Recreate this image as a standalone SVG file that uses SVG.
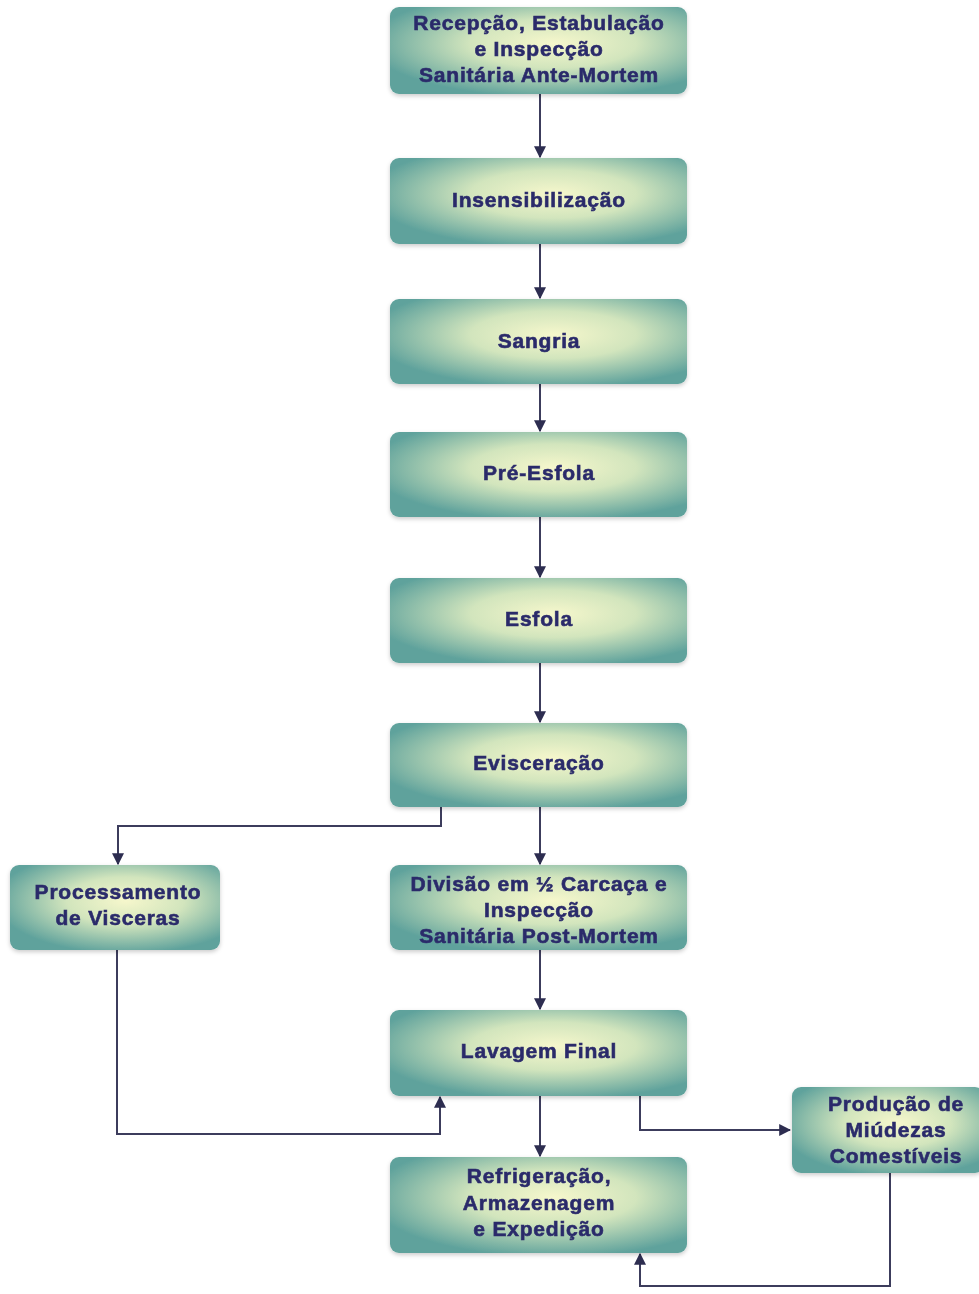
<svg xmlns="http://www.w3.org/2000/svg" width="979" height="1294" viewBox="0 0 979 1294">
<style>
.box{fill:url(#g);}
.t{font-family:"Liberation Sans",Arial,sans-serif;font-weight:bold;font-size:21px;letter-spacing:0.8px;fill:#2b2b6b;stroke:#2b2b6b;stroke-width:0.6;text-anchor:middle;}
.c{fill:none;stroke:#3c3c5c;stroke-width:2;}
</style>
<defs>
<radialGradient id="g" cx="0.55" cy="0.42" r="0.62">
<stop offset="0" stop-color="#f6f7cc"/>
<stop offset="0.45" stop-color="#d2e5bd"/>
<stop offset="1" stop-color="#5fa29c"/>
</radialGradient>
<filter id="s" x="-5%" y="-5%" width="110%" height="115%">
<feDropShadow dx="0" dy="2" stdDeviation="2" flood-color="#000" flood-opacity="0.2"/>
</filter>
<marker id="a" viewBox="0 0 10 10" refX="9" refY="5" markerWidth="6" markerHeight="6" orient="auto">
<path d="M0,0 L10,5 L0,10 z" fill="#2d2d50"/>
</marker>
</defs>
<rect width="979" height="1294" fill="#fff"/>
<g id="connectors">
<line class="c" x1="540" y1="94" x2="540" y2="157" marker-end="url(#a)"/>
<line class="c" x1="540" y1="244" x2="540" y2="298" marker-end="url(#a)"/>
<line class="c" x1="540" y1="384" x2="540" y2="431" marker-end="url(#a)"/>
<line class="c" x1="540" y1="517" x2="540" y2="577" marker-end="url(#a)"/>
<line class="c" x1="540" y1="663" x2="540" y2="722" marker-end="url(#a)"/>
<line class="c" x1="540" y1="807" x2="540" y2="864" marker-end="url(#a)"/>
<line class="c" x1="540" y1="950" x2="540" y2="1009" marker-end="url(#a)"/>
<line class="c" x1="540" y1="1096" x2="540" y2="1156" marker-end="url(#a)"/>
<polyline class="c" points="441,807 441,826 118,826 118,864" marker-end="url(#a)"/>
<polyline class="c" points="117,950 117,1134 440,1134 440,1097" marker-end="url(#a)"/>
<polyline class="c" points="640,1096 640,1130 790,1130" marker-end="url(#a)"/>
<polyline class="c" points="890,1173 890,1286 640,1286 640,1254" marker-end="url(#a)"/>
</g>
<g id="n1" filter="url(#s)"><rect class="box" x="390" y="7" width="297" height="87" rx="9"/>
<text class="t" x="539" y="30">Recepção, Estabulação</text><text class="t" x="539" y="56">e Inspecção</text><text class="t" x="539" y="82">Sanitária Ante-Mortem</text></g>
<g id="n2" filter="url(#s)"><rect class="box" x="390" y="158" width="297" height="86" rx="9"/>
<text class="t" x="539" y="207">Insensibilização</text></g>
<g id="n3" filter="url(#s)"><rect class="box" x="390" y="299" width="297" height="85" rx="9"/>
<text class="t" x="539" y="348">Sangria</text></g>
<g id="n4" filter="url(#s)"><rect class="box" x="390" y="432" width="297" height="85" rx="9"/>
<text class="t" x="539" y="480">Pré-Esfola</text></g>
<g id="n5" filter="url(#s)"><rect class="box" x="390" y="578" width="297" height="85" rx="9"/>
<text class="t" x="539" y="626">Esfola</text></g>
<g id="n6" filter="url(#s)"><rect class="box" x="390" y="723" width="297" height="84" rx="9"/>
<text class="t" x="539" y="770">Evisceração</text></g>
<g id="n7" filter="url(#s)"><rect class="box" x="390" y="865" width="297" height="85" rx="9"/>
<text class="t" x="539" y="891">Divisão em ½ Carcaça e</text><text class="t" x="539" y="917">Inspecção</text><text class="t" x="539" y="943">Sanitária Post-Mortem</text></g>
<g id="n8" filter="url(#s)"><rect class="box" x="390" y="1010" width="297" height="86" rx="9"/>
<text class="t" x="539" y="1058">Lavagem Final</text></g>
<g id="n9" filter="url(#s)"><rect class="box" x="390" y="1157" width="297" height="96" rx="9"/>
<text class="t" x="539" y="1183">Refrigeração,</text><text class="t" x="539" y="1210">Armazenagem</text><text class="t" x="539" y="1236">e Expedição</text></g>
<g id="n10" filter="url(#s)"><rect class="box" x="10" y="865" width="210" height="85" rx="9"/>
<text class="t" x="118" y="899">Processamento</text><text class="t" x="118" y="925">de Visceras</text></g>
<g id="n11" filter="url(#s)"><rect class="box" x="792" y="1087" width="192" height="86" rx="9"/>
<text class="t" x="896" y="1111">Produção de</text><text class="t" x="896" y="1137">Miúdezas</text><text class="t" x="896" y="1163">Comestíveis</text></g>
</svg>
